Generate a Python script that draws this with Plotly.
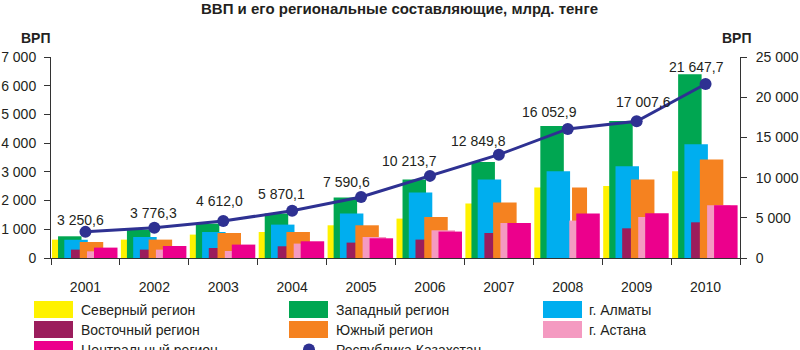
import plotly.graph_objects as go

# ---------------- data ----------------
years = ["2001", "2002", "2003", "2004", "2005", "2006", "2007", "2008", "2009", "2010"]

north = [640, 640, 815, 906, 1139, 1372, 1895, 2452, 2508, 3020]
west = [756, 988, 1197, 1547, 2104, 2730, 3344, 4598, 4772, 6398]
almaty = [635, 732, 906, 1163, 1546, 2278, 2730, 3020, 3194, 3960]
east = [292, 292, 348, 408, 536, 641, 871, None, 1034, 1243]
south = [557, 640, 871, 906, 1139, 1428, 1930, 2452, 2730, 3427]
astana = [233, 292, 245, 502, 732, 965, 1219, 1303, 1428, 1836]
central = [362, 418, 467, 582, 686, 920, 1219, 1550, 1557, 1836]

kazakhstan = [3250.6, 3776.3, 4612.0, 5870.1, 7590.6, 10213.7, 12849.8, 16052.9, 17007.6, 21647.7]

series_names = ["Северный регион", "Западный регион", "г. Алматы", "Восточный регион",
                "Южный регион", "г. Астана", "Центральный регион"]
line_name = "Республика Казахстан"
left_tick_vals = [0, 1000, 2000, 3000, 4000, 5000, 6000, 7000]
right_tick_vals = [0, 5000, 10000, 15000, 20000, 25000]
title_text = "ВВП и его региональные составляющие, млрд. тенге"
axis_label = "ВРП"

# ---------------- style ----------------
series_values = [north, west, almaty, east, south, astana, central]
colors = ["#FFF200", "#00A651", "#00AEEF", "#9B1D5C", "#F58220", "#F49AC1", "#EC008C"]
BW = 0.341
offsets = [-0.4855, -0.398, -0.307, -0.21, -0.083, 0.0225, 0.124]
LINE_COLOR = "#2E3192"
TXT = "#231F20"
AX = "#333333"
FONT = "Liberation Sans, Arial, sans-serif"

# plot area in pixels
L, R, T, B = 51, 740, 57, 258
W, H = 800, 350


def px_x(p):
    return (p - L) / (R - L)


def px_y(p):
    return (B - p) / (B - T)


fig = go.Figure()

for i, (name, vals, col) in enumerate(zip(series_names, series_values, colors)):
    off = [offsets[i]] * len(years)
    wid = [BW] * len(years)
    if name == "Южный регион":
        # in 2008 this bar sits behind the Almaty bar
        k = years.index("2008")
        off[k] = 0.062
        wid[k] = 0.218
    fig.add_trace(go.Bar(
        x=years, y=vals, name=name, offset=off, width=wid,
        marker=dict(color=col, line=dict(width=0)), opacity=1,
        showlegend=False, hoverinfo="skip",
    ))

fig.add_trace(go.Scatter(
    x=years, y=kazakhstan, name=line_name, yaxis="y2",
    mode="lines+markers",
    line=dict(color=LINE_COLOR, width=3),
    marker=dict(color=LINE_COLOR, size=12),
    showlegend=False, hoverinfo="skip",
))

annotations = []
# data labels on line
label_xshift = [-5, -1, -4, -11, -15, -20, -20, -18, 7, -9]
label_yshift = [12, 15, 20, 17, 15, 15, 14, 17, 19, 17]


def fmt(v):
    return f"{v:,.1f}".replace(",", " ").replace(".", ",")


for i, v in enumerate(kazakhstan):
    annotations.append(dict(
        x=i, y=v, xref="x", yref="y2", text=fmt(v), showarrow=False,
        xshift=label_xshift[i], yshift=label_yshift[i],
        xanchor="center", yanchor="middle",
        font=dict(size=14, color=TXT, family=FONT),
    ))

# title
annotations.append(dict(
    x=px_x(400), y=px_y(9), xref="paper", yref="paper", text="<b>" + title_text + "</b>",
    showarrow=False, xanchor="center", yanchor="middle",
    font=dict(size=15, color=TXT, family=FONT),
))
# axis labels
for cx in (36, 737):
    annotations.append(dict(
        x=px_x(cx), y=px_y(38), xref="paper", yref="paper", text="<b>" + axis_label + "</b>",
        showarrow=False, xanchor="center", yanchor="middle",
        font=dict(size=14, color=TXT, family=FONT),
    ))

# custom legend
shapes = []
col_sw = [34, 289, 543]
col_tx = [79, 334, 587]
row_top = [301, 321, 341]
entries = list(zip(series_names, colors)) + [(line_name, None)]
for idx, (name, col) in enumerate(entries):
    r, c = divmod(idx, 3)
    yc = row_top[r] + 8.5
    if col is not None:
        shapes.append(dict(
            type="rect", xref="paper", yref="paper",
            x0=px_x(col_sw[c]), x1=px_x(col_sw[c] + 39),
            y0=px_y(row_top[r] + 17), y1=px_y(row_top[r]),
            fillcolor=col, line=dict(width=0), layer="above",
        ))
    else:
        shapes.append(dict(
            type="circle", xref="paper", yref="paper",
            x0=px_x(303), x1=px_x(315), y0=px_y(yc + 6), y1=px_y(yc - 6),
            fillcolor=LINE_COLOR, line=dict(width=0), layer="above",
        ))
    annotations.append(dict(
        x=px_x(col_tx[c]), y=px_y(yc), xref="paper", yref="paper", text=name,
        showarrow=False, xanchor="left", yanchor="middle",
        font=dict(size=14, color=TXT, family=FONT),
    ))

fig.update_layout(
    width=W, height=H,
    margin=dict(l=L, r=W - R, t=T, b=H - B, pad=0, autoexpand=False),
    paper_bgcolor="white", plot_bgcolor="white",
    barmode="overlay",
    separators=", ",
    font=dict(family=FONT, size=14, color=TXT),
    showlegend=False,
    xaxis=dict(
        type="category", range=[-0.5, 9.5], tickson="boundaries",
        showline=True, linecolor=AX, linewidth=1, automargin=False,
        ticks="outside", ticklen=6, tickcolor=AX,
        showgrid=False, zeroline=False, ticklabelstandoff=16,
        tickfont=dict(size=14, color=TXT),
    ),
    yaxis=dict(
        range=[0, 7000], tickvals=left_tick_vals, tickformat=",d",
        showline=True, linecolor=AX, linewidth=1, automargin=False,
        ticks="outside", ticklen=6, tickcolor=AX,
        showgrid=False, zeroline=False, ticklabelstandoff=5,
        tickfont=dict(size=14, color=TXT),
    ),
    yaxis2=dict(
        range=[0, 25000], tickvals=right_tick_vals, tickformat=",d",
        overlaying="y", side="right", automargin=False,
        showline=True, linecolor=AX, linewidth=1,
        ticks="outside", ticklen=6, tickcolor=AX,
        showgrid=False, zeroline=False, ticklabelstandoff=6,
        tickfont=dict(size=14, color=TXT),
    ),
    annotations=annotations,
    shapes=shapes,
)

fig.write_html("out.html")
